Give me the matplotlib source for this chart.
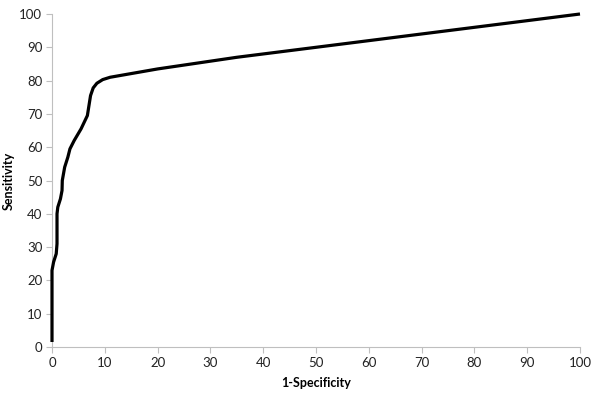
import matplotlib
matplotlib.use("Agg")
import matplotlib.pyplot as plt

# ROC curve values (percent)
fpr = [0, 0, 0.3, 0.8, 0.95, 0.95, 1.1, 1.6, 1.9, 1.95, 2.4, 3.0, 3.4, 4.2, 5.5, 6.7,
       7.0, 7.3, 7.8, 8.5, 9.6, 11.0, 12.8, 20, 35, 56.5, 100]
tpr = [1.5, 23, 25.5, 28, 31, 40, 42, 44.5, 47, 50, 54, 57, 59.5, 62, 65.5, 69.5,
       72.5, 75.5, 77.8, 79.2, 80.3, 81.0, 81.5, 83.5, 87, 91.3, 100]
ticks = list(range(0, 101, 10))
x_label = "1-Specificity"
y_label = "Sensitivity"

plt.rcParams['font.family'] = ['Lato', 'DejaVu Sans']

fig = plt.figure(figsize=(6.0, 4.05), dpi=100)
ax = fig.add_axes([52/600, 1 - 347/405, 528/600, 333/405])

ax.plot(fpr, tpr, color='black', lw=2.3, solid_joinstyle='round', solid_capstyle='butt',
        clip_on=False, zorder=5)

ax.set_xlim(0, 100)
ax.set_ylim(0, 100)
ax.set_xticks(ticks)
ax.set_yticks(ticks)
ax.tick_params(axis='both', direction='out', length=4, width=0.8, color='#BFBFBF',
               labelsize=9.5, labelcolor='#222222', pad=3)
for s in ['top', 'right']:
    ax.spines[s].set_visible(False)
for s in ['left', 'bottom']:
    ax.spines[s].set_color('#BFBFBF')
    ax.spines[s].set_linewidth(0.8)

ax.set_xlabel(x_label, fontsize=9, fontweight='bold', labelpad=6)
ax.set_ylabel(y_label, fontsize=9, fontweight='bold', labelpad=3)

fig.savefig("out.png", dpi=100)
